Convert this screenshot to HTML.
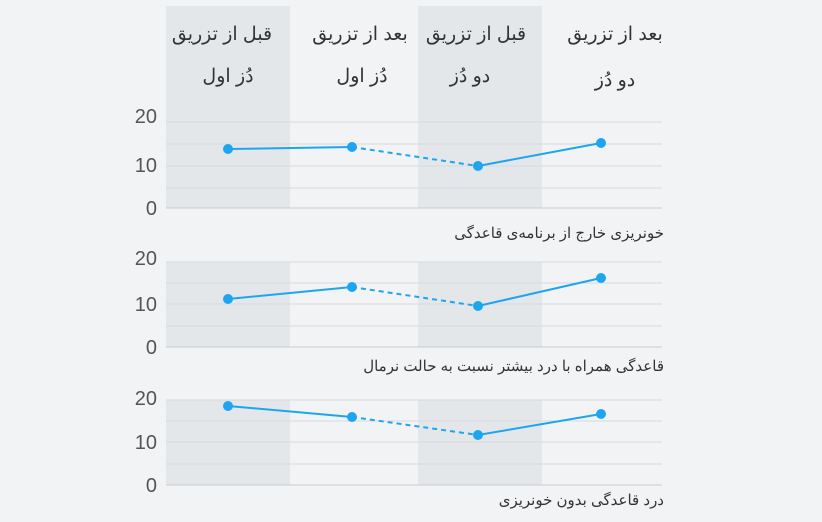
<!DOCTYPE html>
<html><head><meta charset="utf-8"><style>
html,body{margin:0;padding:0;background:#f2f3f5;}
svg{display:block;}
text{font-family:"Liberation Sans","Noto Sans CJK SC",sans-serif;}
</style></head><body>
<svg width="822" height="522" viewBox="0 0 822 522" xmlns="http://www.w3.org/2000/svg">
<rect width="822" height="522" fill="#f2f3f5"/>
<g fill="#e4e7ea">
<rect x="166" y="6" width="124" height="202"/>
<rect x="418" y="6" width="124" height="202"/>
<rect x="166" y="262" width="124" height="85"/>
<rect x="418" y="262" width="124" height="85"/>
<rect x="166" y="400" width="124" height="85"/>
<rect x="418" y="400" width="124" height="85"/>
</g>
<g font-size="19" fill="#333" text-anchor="middle" direction="rtl">
<text x="222" y="40">قبل از تزریق</text><text x="228" y="82">دُز اول</text>
<text x="360" y="40">بعد از تزریق</text><text x="362" y="82">دُز اول</text>
<text x="476" y="40">قبل از تزریق</text><text x="470" y="82">دو دُز</text>
<text x="615" y="40">بعد از تزریق</text><text x="615" y="86">دو دُز</text>
</g>
<g stroke="#d8dadd" stroke-width="1">
<path d="M166 122H662M166 144H662M166 166H662M166 188H662"/>
<path d="M166 262H662M166 283H662M166 304H662M166 326H662"/>
<path d="M166 400H662M166 421H662M166 442H662M166 464H662"/>
</g>
<g stroke="#c8cbcf" stroke-width="1">
<path d="M166 208H662M166 347H662M166 485H662"/>
</g>
<g font-size="20" fill="#555" text-anchor="end">
<text x="157" y="123">20</text><text x="157" y="172">10</text><text x="157" y="215">0</text>
<text x="157" y="265">20</text><text x="157" y="311">10</text><text x="157" y="354">0</text>
<text x="157" y="405">20</text><text x="157" y="449">10</text><text x="157" y="492">0</text>
</g>
<g stroke="#1ea5ef" stroke-width="2" fill="none">
<path d="M228 149L352 147M478 166L601 143"/>
<path d="M352 147L478 166" stroke-dasharray="5,4"/>
<path d="M228 299L352 287M478 306L601 278"/>
<path d="M352 287L478 306" stroke-dasharray="5,4"/>
<path d="M228 406L352 417M478 435L601 414"/>
<path d="M352 417L478 435" stroke-dasharray="5,4"/>
</g>
<g fill="#1ea5ef">
<circle cx="228" cy="149" r="5"/><circle cx="352" cy="147" r="5"/><circle cx="478" cy="166" r="5"/><circle cx="601" cy="143" r="5"/>
<circle cx="228" cy="299" r="5"/><circle cx="352" cy="287" r="5"/><circle cx="478" cy="306" r="5"/><circle cx="601" cy="278" r="5"/>
<circle cx="228" cy="406" r="5"/><circle cx="352" cy="417" r="5"/><circle cx="478" cy="435" r="5"/><circle cx="601" cy="414" r="5"/>
</g>
<g font-size="15" fill="#333" text-anchor="start" direction="rtl">
<text x="664" y="238">خونریزی خارج از برنامه‌ی قاعدگی</text>
<text x="664" y="371">قاعدگی همراه با درد بیشتر نسبت به حالت نرمال</text>
<text x="664" y="505">درد قاعدگی بدون خونریزی</text>
</g>
</svg>
</body></html>
